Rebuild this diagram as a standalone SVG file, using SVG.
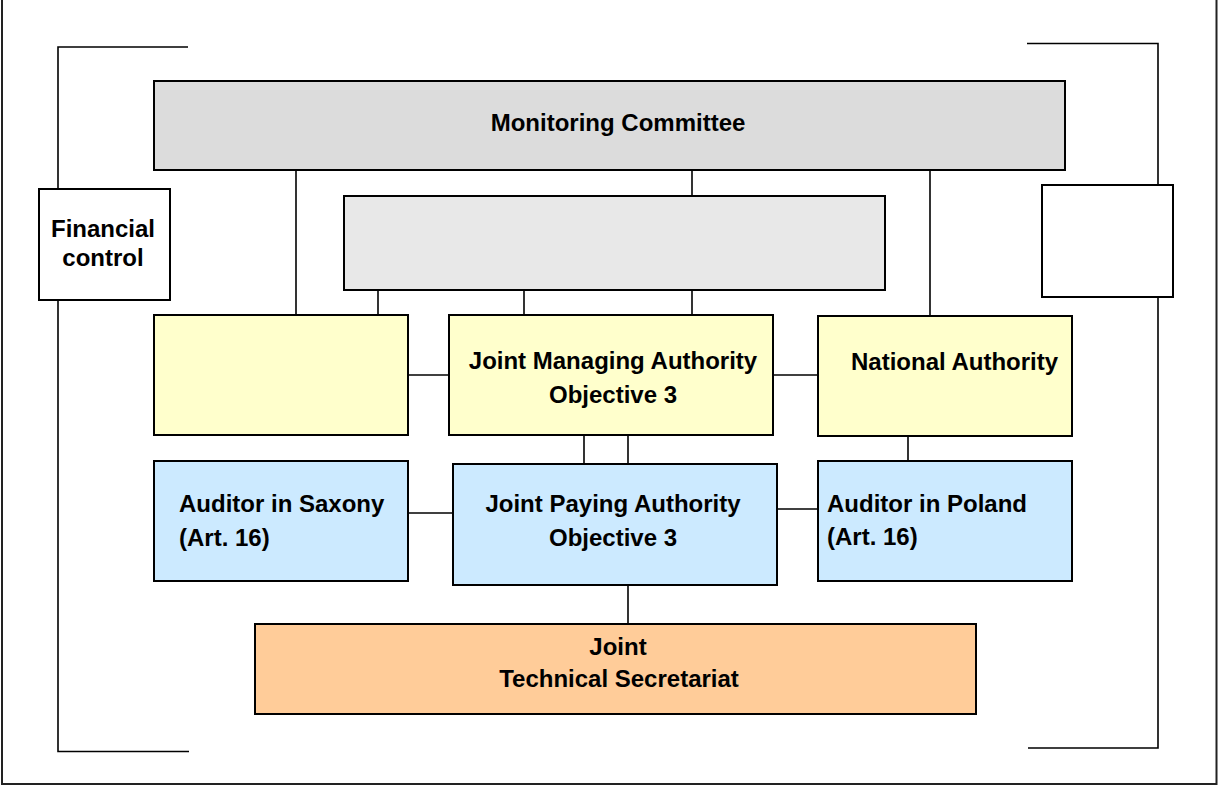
<svg xmlns="http://www.w3.org/2000/svg" width="1218" height="786" viewBox="0 0 1218 786">
<style>
.box{stroke:#000;stroke-width:2}
.ln{stroke:#000;stroke-width:1.6;fill:none}
.t{font-family:"Liberation Sans",Arial,sans-serif;font-weight:bold;font-size:24px;fill:#000}
.c{text-anchor:middle}
</style>
<rect x="0" y="0" width="1218" height="786" fill="#fff"/>
<polyline points="2,0 2,784 1216.5,784 1216.5,0" fill="none" stroke="#222" stroke-width="2"/>
<g id="connectors">
<polyline class="ln" points="188,47 58,47 58,189"/>
<polyline class="ln" points="58,300 58,751.5 189,751.5"/>
<polyline class="ln" points="1027,43.5 1158,43.5 1158,185"/>
<polyline class="ln" points="1158,297 1158,748 1028,748"/>
<line class="ln" x1="296" y1="170" x2="296" y2="315"/>
<line class="ln" x1="930" y1="170" x2="930" y2="316"/>
<line class="ln" x1="692" y1="170" x2="692" y2="196"/>
<line class="ln" x1="378" y1="290" x2="378" y2="315"/>
<line class="ln" x1="524" y1="290" x2="524" y2="315"/>
<line class="ln" x1="692" y1="290" x2="692" y2="315"/>
<line class="ln" x1="408" y1="375" x2="449" y2="375"/>
<line class="ln" x1="773" y1="375" x2="818" y2="375"/>
<line class="ln" x1="584" y1="435" x2="584" y2="464"/>
<line class="ln" x1="628" y1="435" x2="628" y2="464"/>
<line class="ln" x1="908" y1="436" x2="908" y2="461"/>
<line class="ln" x1="408" y1="513" x2="453" y2="513"/>
<line class="ln" x1="777" y1="509" x2="818" y2="509"/>
<line class="ln" x1="628" y1="585" x2="628" y2="624"/>
</g>
<g id="monitoring-committee">
<rect class="box" x="154" y="81" width="911" height="89" fill="#dcdcdc"/>
<text class="t c" x="618" y="131">Monitoring Committee</text>
</g>
<g id="inner-box">
<rect class="box" x="344" y="196" width="541" height="94" fill="#e8e8e8"/>
</g>
<g id="financial-control">
<rect class="box" x="39" y="189" width="131" height="111" fill="#fff"/>
<text class="t c" x="103" y="237">Financial</text>
<text class="t c" x="103" y="266">control</text>
</g>
<g id="right-box">
<rect class="box" x="1042" y="185" width="131" height="112" fill="#fff"/>
</g>
<g id="left-yellow">
<rect class="box" x="154" y="315" width="254" height="120" fill="#ffffcc"/>
</g>
<g id="joint-managing-authority">
<rect class="box" x="449" y="315" width="324" height="120" fill="#ffffcc"/>
<text class="t c" x="613" y="369">Joint Managing Authority</text>
<text class="t c" x="613" y="403">Objective 3</text>
</g>
<g id="national-authority">
<rect class="box" x="818" y="316" width="254" height="120" fill="#ffffcc"/>
<text class="t" x="851" y="370">National Authority</text>
</g>
<g id="auditor-saxony">
<rect class="box" x="154" y="461" width="254" height="120" fill="#cceaff"/>
<text class="t" x="179" y="512">Auditor in Saxony</text>
<text class="t" x="179" y="546">(Art. 16)</text>
</g>
<g id="joint-paying-authority">
<rect class="box" x="453" y="464" width="324" height="121" fill="#cceaff"/>
<text class="t c" x="613" y="512">Joint Paying Authority</text>
<text class="t c" x="613" y="546">Objective 3</text>
</g>
<g id="auditor-poland">
<rect class="box" x="818" y="461" width="254" height="120" fill="#cceaff"/>
<text class="t" x="827" y="512">Auditor in Poland</text>
<text class="t" x="827" y="545">(Art. 16)</text>
</g>
<g id="joint-technical-secretariat">
<rect class="box" x="255" y="624" width="721" height="90" fill="#ffcc99"/>
<text class="t c" x="618" y="655">Joint</text>
<text class="t c" x="619" y="687">Technical Secretariat</text>
</g>
</svg>
